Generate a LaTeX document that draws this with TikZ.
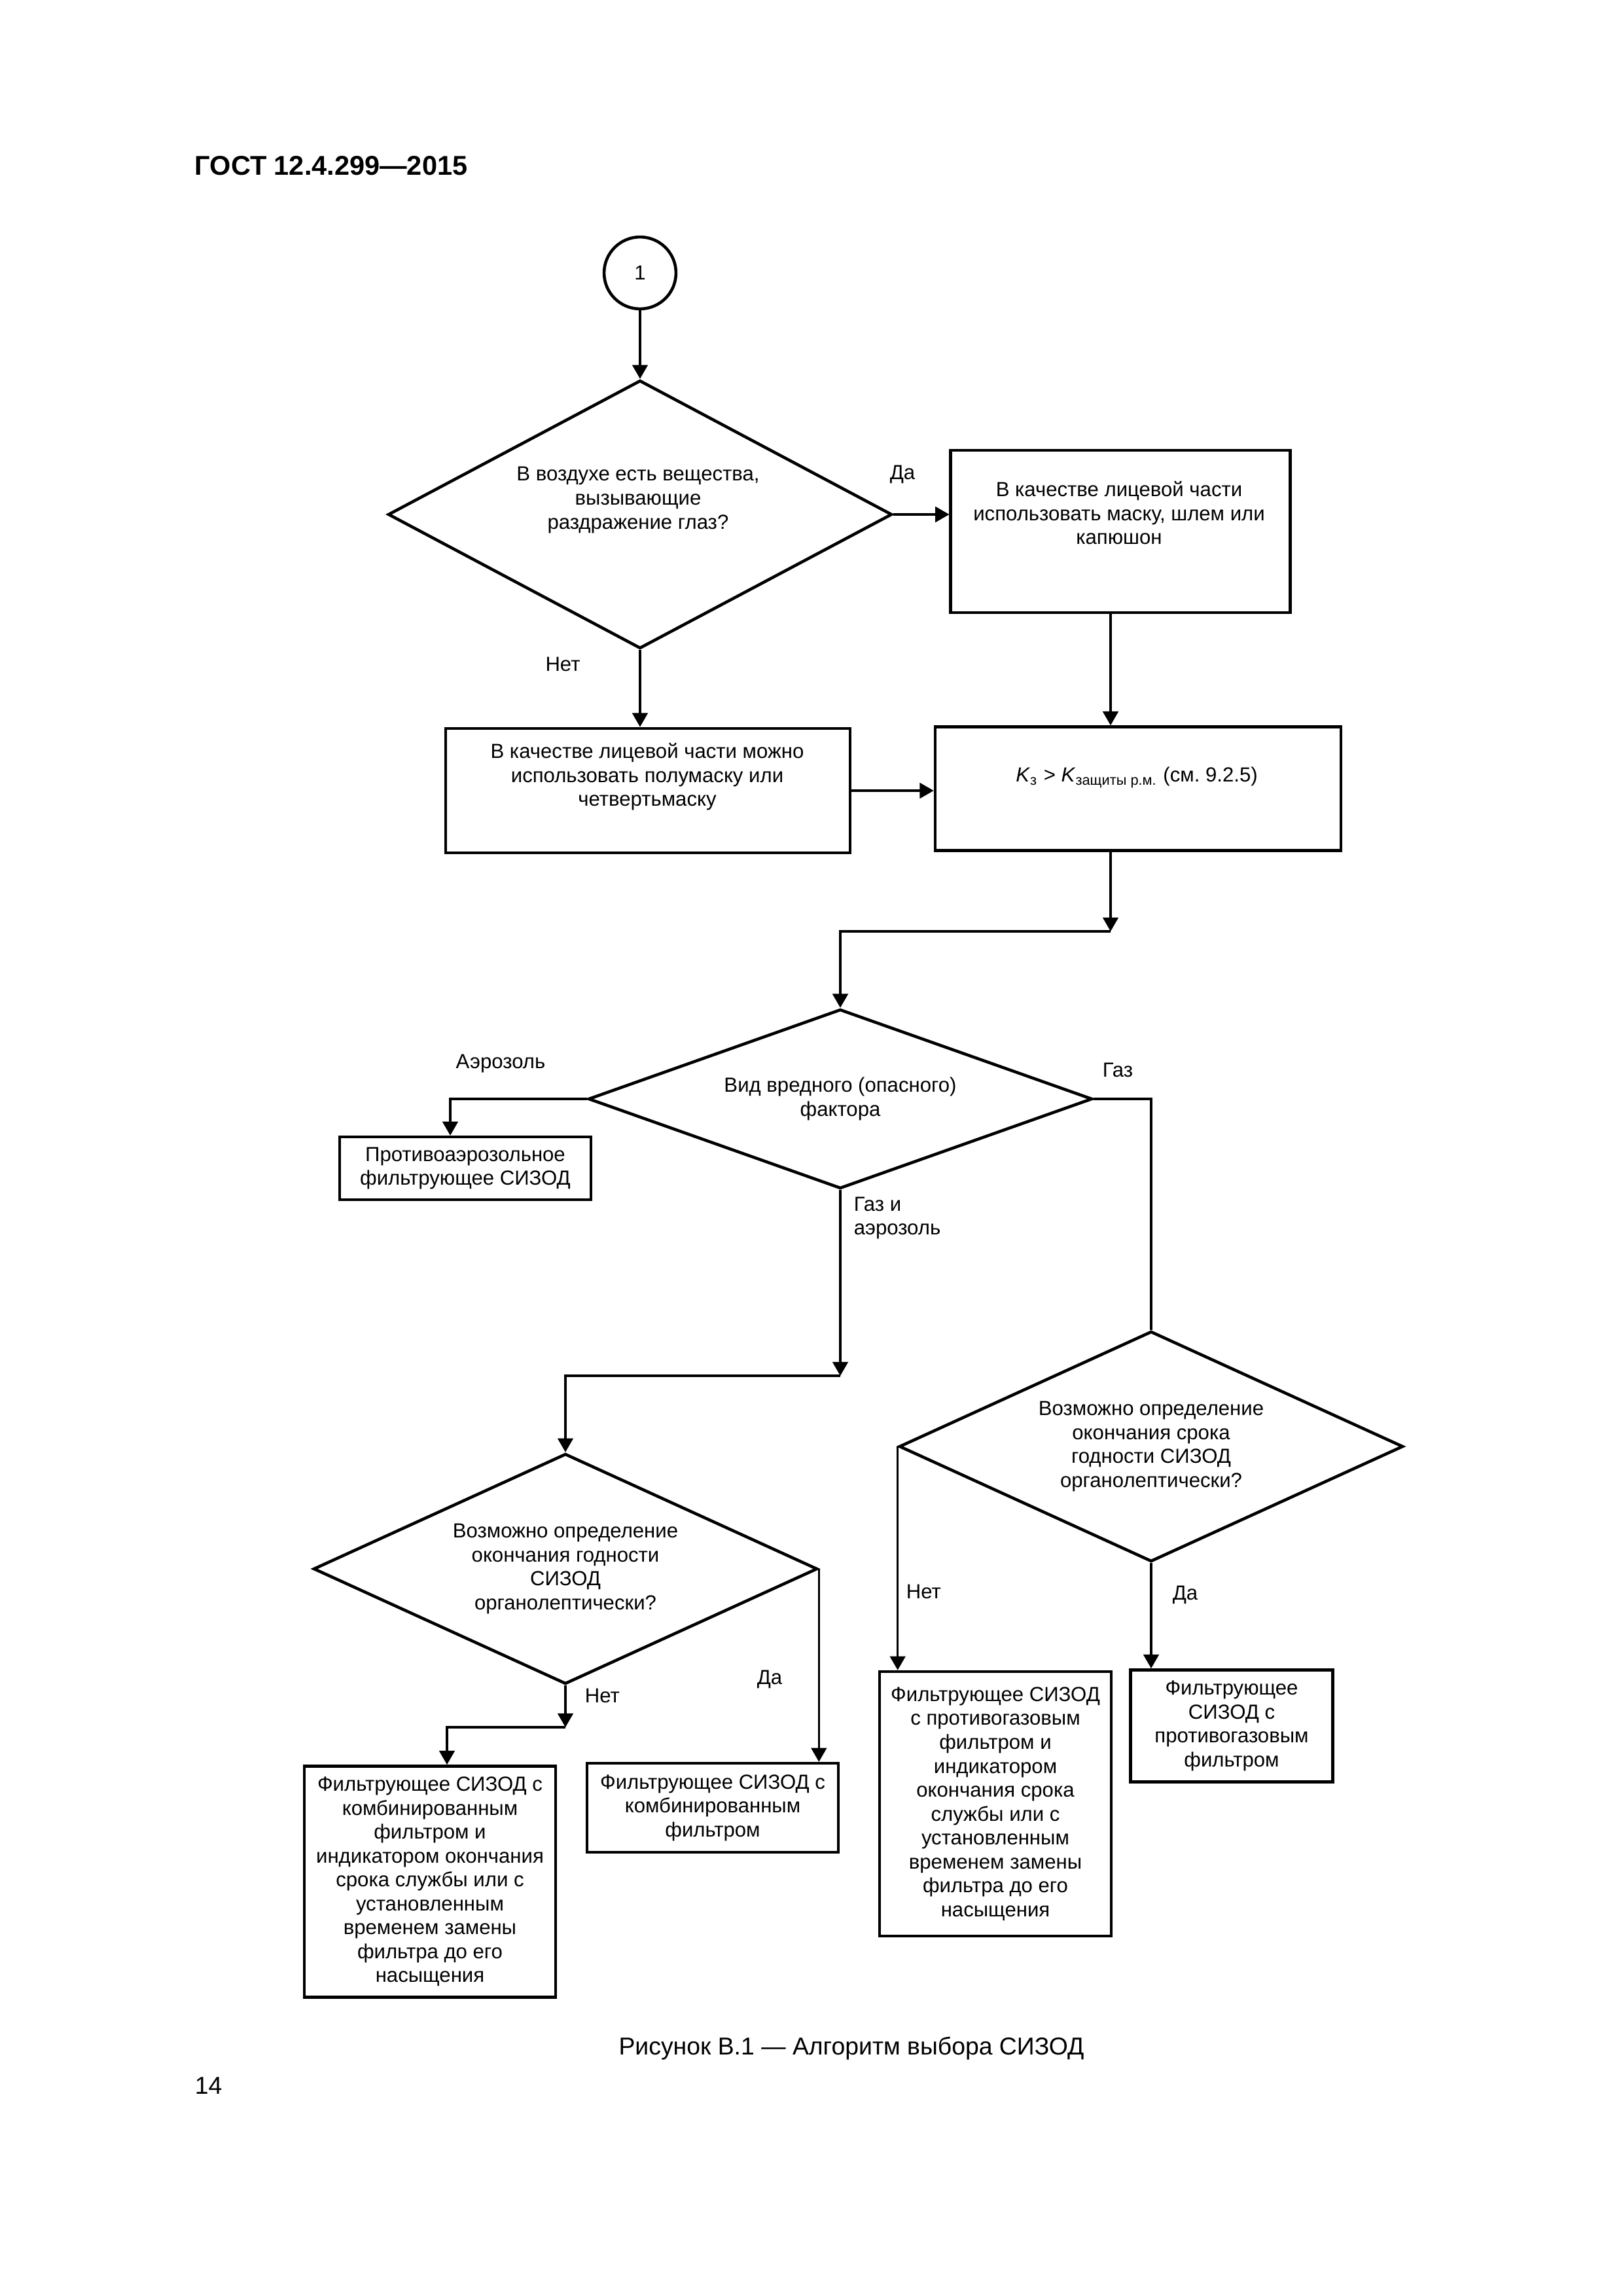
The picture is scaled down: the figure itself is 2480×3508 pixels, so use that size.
\documentclass[tikz,border=0pt]{standalone}
\usepackage{fontspec}
\setmainfont{Liberation Sans}
\usetikzlibrary{shapes.geometric,arrows.meta}
\frenchspacing

\begin{document}
\begin{tikzpicture}[x=0.084667mm, y=-0.084667mm,
  every node/.style = {font=\fontsize{7.5}{8.8}\selectfont, align=center, inner sep=0pt},
  box/.style = {draw, rectangle, line width=1.1pt},
  rhomb/.style = {draw, diamond, line width=1.1pt, minimum width=65.2mm},
  flow/.style = {line width=0.75pt, -{Triangle[length=1.8mm,width=2mm]}},
  wire/.style = {line width=0.75pt}]
\useasboundingbox (0,0) rectangle (2480,3508);

\node[anchor=west, font=\fontsize{10}{12}\selectfont\bfseries] (head) at (297,253) {ГОСТ 12.4.299—2015};

\node[draw, circle, line width=1.1pt, minimum size=9.3mm] (start) at (978,417) {1};
\node[rhomb, minimum height=34.7mm, aspect=1.879] (eyes) at (978,786) {};
\node (eyest) at (975,764) {В воздухе есть вещества,\\вызывающие\\раздражение глаз?};
\node[box, minimum width=43.9mm, minimum height=21.0mm] (mask) at (1712,812) {};
\node (maskt) at (1710,784) {В качестве лицевой части\\использовать маску, шлем или\\капюшон};
\node[box, minimum width=52.3mm, minimum height=16.1mm] (half) at (990,1208) {};
\node (halft) at (989,1187) {В качестве лицевой части можно\\использовать полумаску или\\четвертьмаску};
\node[box, minimum width=52.5mm, minimum height=16.0mm] (kz) at (1739,1205) {};
\node (kzt) at (1737,1188) {\textit{K}\textsubscript{з} > \textit{K}\textsubscript{защиты р.м.} (см. 9.2.5)};
\coordinate (j1) at (1697,1423);
\node[rhomb, minimum height=23.2mm, aspect=2.81] (kind) at (1284,1679) {Вид вредного (опасного)\\фактора};
\coordinate (j2) at (688,1679);
\node[box, minimum width=32.5mm, minimum height=8.1mm] (aero) at (711,1785) {Противоаэрозольное\\фильтрующее СИЗОД};
\coordinate (j3) at (1284,2102);
\node[rhomb, minimum height=29.8mm, aspect=2.19] (org1) at (864,2397) {Возможно определение\\окончания годности\\СИЗОД\\органолептически?};
\node[rhomb, minimum height=29.8mm, aspect=2.19] (org2) at (1759,2210) {Возможно определение\\окончания срока\\годности СИЗОД\\органолептически?};
\coordinate (j4) at (864,2639);
\coordinate (j5) at (683,2639);
\node[box, minimum width=32.5mm, minimum height=29.9mm] (combi) at (657,2875) {Фильтрующее СИЗОД с\\комбинированным\\фильтром и\\индикатором окончания\\срока службы или с\\установленным\\временем замены\\фильтра до его\\насыщения};
\node[box, minimum width=32.5mm, minimum height=11.5mm] (comb) at (1089,2762) {Фильтрующее СИЗОД с\\комбинированным\\фильтром};
\node[box, minimum width=30.0mm, minimum height=34.2mm] (gasi) at (1521,2756) {Фильтрующее СИЗОД\\с противогазовым\\фильтром и\\индикатором\\окончания срока\\службы или с\\установленным\\временем замены\\фильтра до его\\насыщения};
\node[box, minimum width=26.2mm, minimum height=14.5mm] (gasf) at (1882,2637) {Фильтрующее\\СИЗОД с\\противогазовым\\фильтром};

\node (yes1) at (1379,725) {Да};
\node (no1) at (860,1015) {Нет};
\node (laer) at (765,1625) {Аэрозоль};
\node (lgas) at (1708,1635) {Газ};
\node[anchor=west, align=left] (lboth) at (1304,1861) {Газ и\\аэрозоль};
\node[anchor=west] (no2) at (893,2591) {Нет};
\node (yes2) at (1176,2566) {Да};
\node[anchor=west] (no3) at (1384,2432) {Нет};
\node[anchor=west] (yes3) at (1791,2437) {Да};

\node[font=\fontsize{9}{11}\selectfont] (cap) at (1301,3130) {Рисунок В.1 — Алгоритм выбора СИЗОД};
\node[anchor=west, font=\fontsize{9}{11}\selectfont] (page) at (297,3187) {14};

\draw[flow] (start) -- (eyes);
\draw[flow] (eyes.east) -- (eyes.east -| mask.west);
\draw[flow] (eyes.south) -- (eyes.south |- half.north);
\draw[flow] (mask.south -| j1) -- (kz.north -| j1);
\draw[flow] (half.east) -- (half.east -| kz.west);
\draw[flow] (kz.south -| j1) -- (j1);
\draw[flow] (j1) -| (kind.north);
\draw[flow] (kind.west) -- (j2) -- (j2 |- aero.north);
\draw[wire] (kind.east) -| (org2.north);
\draw[flow] (kind.south) -- (j3);
\draw[flow] (j3) -| (org1.north);
\draw[flow] (org1.south) -- (j4);
\draw[flow] (j4) -- (j5) -- (j5 |- combi.north);
\draw[flow] (org1.east) -- (org1.east |- comb.north);
\draw[flow] (org2.west) -- (org2.west |- gasi.north);
\draw[flow] (org2.south) -- (org2.south |- gasf.north);
\end{tikzpicture}
\end{document}
